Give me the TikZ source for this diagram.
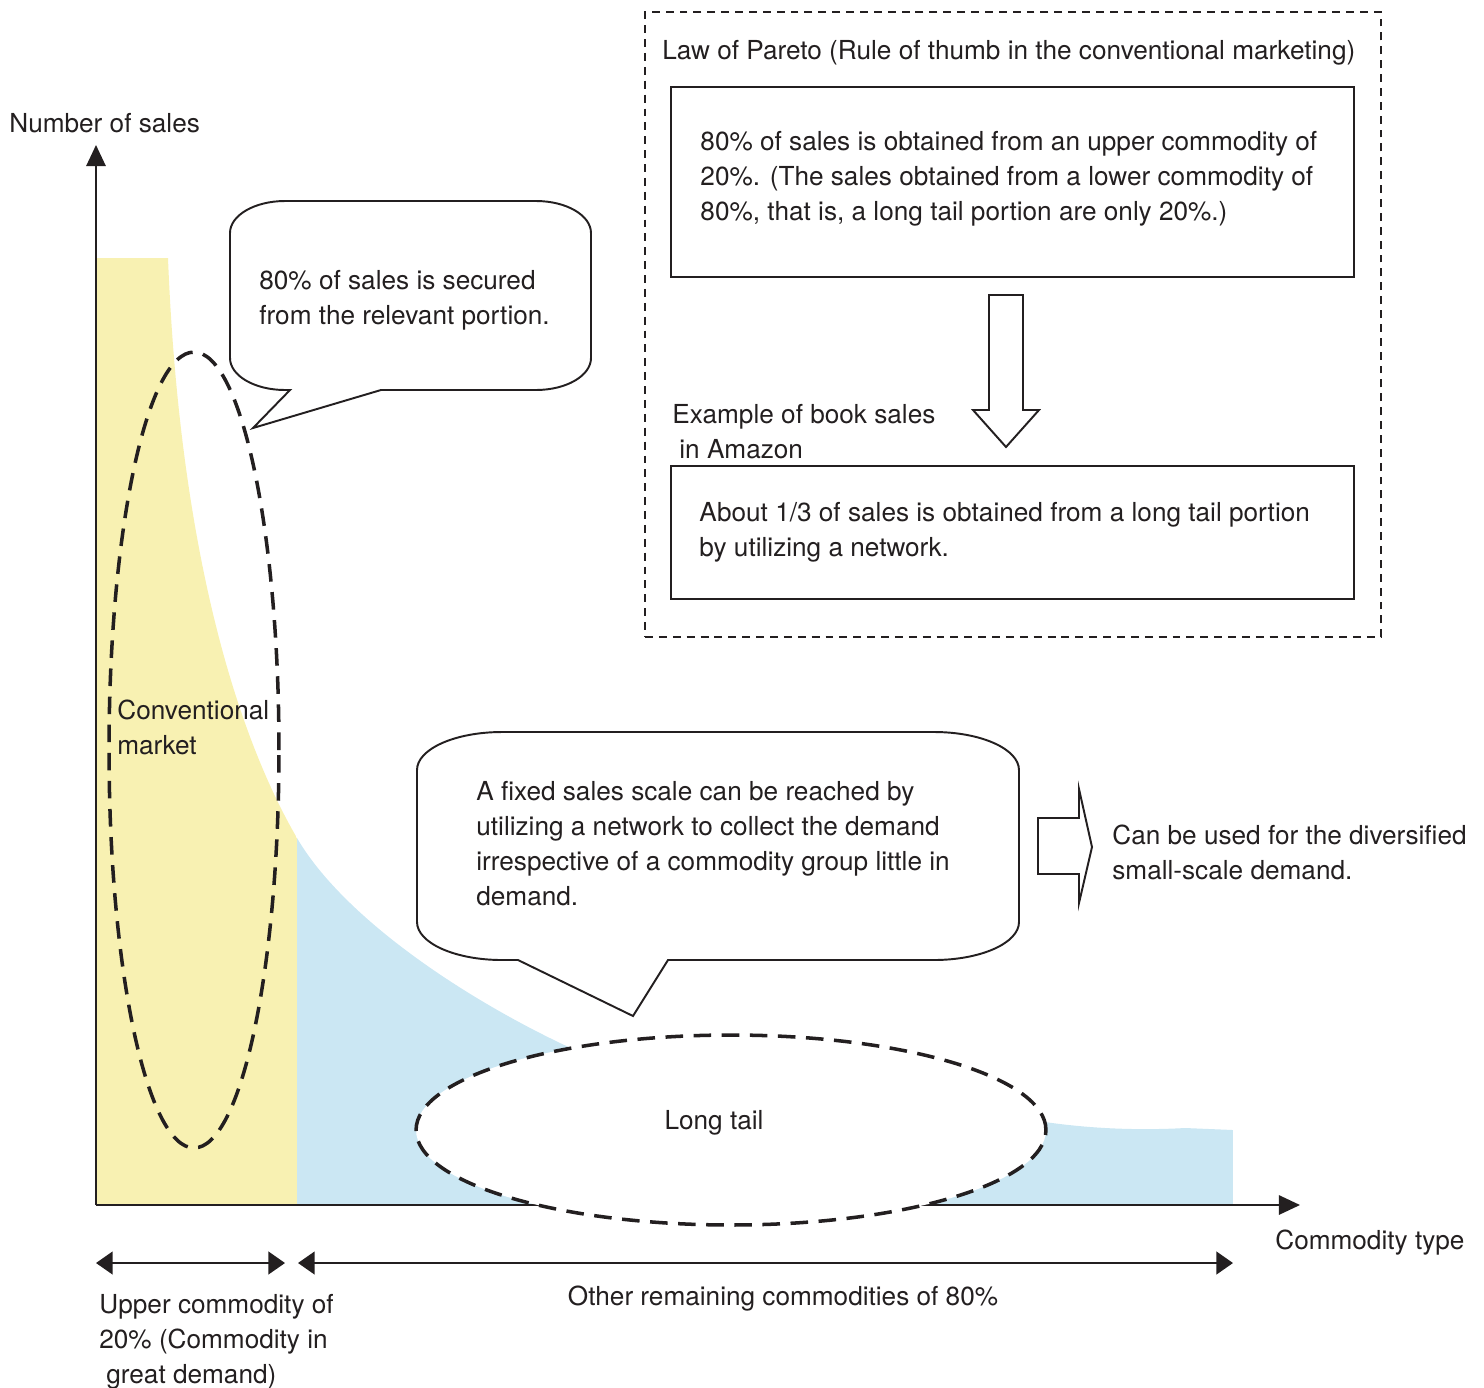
\documentclass[tikz,border=0pt]{standalone}
\usepackage{fontspec}
\setmainfont{TeX Gyre Heros}
\usepackage{tikz}
\usetikzlibrary{arrows.meta,positioning,shapes.geometric}

\definecolor{inkcol}{RGB}{35,31,32}
\definecolor{conventional}{RGB}{248,241,178}
\definecolor{tailfill}{RGB}{203,231,243}

\begin{document}
\begin{tikzpicture}[
    x=0.02cm, y=-0.02cm,
    every node/.style={font=\fontsize{14.9pt}{19.9pt}\selectfont, text=inkcol},
    txt/.style={inner sep=0pt, align=left, anchor=north west},
    plainbox/.style={draw=inkcol, line width=1.1pt, fill=white, minimum width=13.66cm, inner sep=0pt},
    framebox/.style={draw=inkcol, dash pattern=on 4.5pt off 3.4pt, line width=0.85pt, inner sep=0pt},
    oval/.style={ellipse, draw=inkcol, line width=2pt, dash pattern=on 10pt off 6pt, inner sep=0pt},
    callout/.style={draw=inkcol, line width=1.1pt, fill=white, line join=miter},
    hollow/.style={draw=inkcol, line width=1.1pt, fill=white, line join=miter},
    axis/.style={draw=inkcol, line width=1.1pt, -{Triangle[length=12pt,width=11pt]}},
    span/.style={draw=inkcol, line width=1.1pt,
                 {Triangle[length=9.5pt,width=13pt]}-{Triangle[length=9.5pt,width=13pt]}}
]
\useasboundingbox (0,0) rectangle (1484,1387);

%% Demand curve, split into conventional part and long tail
\begin{scope}
  \clip (96,1205) -- (96,258) -- (168,258)
    .. controls (180,560) and (240,740) .. (297,838)
    .. controls (340,912) and (450,990) .. (560,1043)
    .. controls (700,1110) and (950,1118) .. (1045,1122)
    .. controls (1100,1130) and (1150,1130) .. (1185,1128)
    -- (1233,1130) -- (1233,1205) -- cycle;
  \fill[conventional] (96,0) rectangle (297,1205);
  \fill[tailfill] (297,0) rectangle (1233,1205);
\end{scope}

%% Axes
\coordinate (origin) at (96,1205);
\coordinate (ytip) at (96,145);
\coordinate (xtip) at (1300,1205);
\draw[axis] (origin) -- (ytip);
\draw[axis] (origin) -- (xtip);
\node[txt] (ylabel) at (9,113) {Number of sales};
\node[txt] (xlabel) at (1275,1230) {Commodity type};

%% Ovals
\node[oval, minimum width=3.4cm, minimum height=15.92cm] (headoval) at (194,750) {};
\node[oval, fill=white, minimum width=12.6cm, minimum height=3.8cm] (tailoval) at (731,1130) {};
\node[inner sep=0pt] (tailtext) at (714,1123) {Long tail};
\node[txt] (convtext) at (117,700) {Conventional\\market};

%% Callout for the head
\draw[callout] (230,233) arc[start angle=180, end angle=90, x radius=1.1cm, y radius=0.64cm]
  -- (536,201) arc[start angle=90, end angle=0, x radius=1.1cm, y radius=0.64cm]
  -- (591,358) arc[start angle=0, end angle=-90, x radius=1.1cm, y radius=0.64cm]
  -- (381,390) -- (253,428) -- (290,390)
  -- (285,390) arc[start angle=270, end angle=180, x radius=1.1cm, y radius=0.64cm]
  -- cycle;
\node[txt] (headnote) at (259,270) {80\% of sales is secured\\from the relevant portion.};

%% Callout for the tail
\draw[callout] (417,770) arc[start angle=180, end angle=90, x radius=1.7cm, y radius=0.76cm]
  -- (934,732) arc[start angle=90, end angle=0, x radius=1.7cm, y radius=0.76cm]
  -- (1019,922) arc[start angle=0, end angle=-90, x radius=1.7cm, y radius=0.76cm]
  -- (668,960) -- (633,1016) -- (518,960)
  -- (502,960) arc[start angle=270, end angle=180, x radius=1.7cm, y radius=0.76cm]
  -- cycle;
\node[txt] (tailnote) at (476,781)
  {A fixed sales scale can be reached by\\utilizing a network to collect the demand\\irrespective of a commodity group little in\\demand.};

%% Hollow arrow to the right
\draw[hollow] (1038,818) -- (1079,818) -- (1079,789) -- (1092,847) -- (1079,903)
  -- (1079,874) -- (1038,874) -- cycle;
\node[txt] (usenote) at (1112,825) {Can be used for the diversified\\small-scale demand.};

%% Law of Pareto
\node[framebox, minimum width=14.72cm, minimum height=12.5cm] (lawframe) at (1013,324.5) {};
\node[txt] (lawtitle) at (662,40) {Law of Pareto (Rule of thumb in the conventional marketing)};
\node[plainbox, minimum height=3.8cm] (paretobox) at (1012.5,182) {};
\node[txt, anchor=west, xshift=0.6cm, yshift=0.06cm] (paretotext) at (paretobox.west)
  {80\% of sales is obtained from an upper commodity of\\20\%. (The sales obtained from a lower commodity of\\80\%, that is, a long tail portion are only 20\%.)};
\draw[hollow] (989,295) -- (1023,295) -- (1023,410) -- (1039,410) -- (1006,447)
  -- (973,410) -- (989,410) -- cycle;
\node[txt] (amazonlabel) at (672,404) {Example of book sales\\\hspace*{4pt}in Amazon};
\node[plainbox, minimum height=2.66cm] (amazonbox) at (1012.5,532.5) {};
\node[txt, anchor=west, xshift=0.58cm] (amazontext) at (amazonbox.west)
  {About 1/3 of sales is obtained from a long tail portion\\by utilizing a network.};

%% Ranges under the axis
\coordinate (upperL) at (96,1263);
\coordinate (upperR) at (285,1263);
\coordinate (otherL) at (298,1263);
\coordinate (otherR) at (1233,1263);
\draw[span] (upperL) -- (upperR);
\draw[span] (otherL) -- (otherR);
\node[txt] (upperlabel) at (99,1294) {Upper commodity of\\20\% (Commodity in\\\hspace*{4pt}great demand)};
\node[inner sep=0pt] (otherlabel) at (783,1299) {Other remaining commodities of 80\%};

\end{tikzpicture}
\end{document}
